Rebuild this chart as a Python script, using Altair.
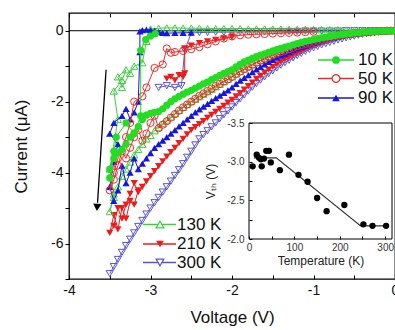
import altair as alt
import pandas as pd

# ---------------- data ----------------
GRID = [0.0, -0.05, -0.1, -0.15, -0.2, -0.25, -0.3, -0.35, -0.4, -0.45, -0.5, -0.55, -0.6, -0.65, -0.7, -0.75,
        -0.8, -0.85, -0.9, -0.95, -1.0, -1.05, -1.1, -1.15, -1.2, -1.25, -1.3, -1.35, -1.4, -1.45, -1.5,
        -1.55, -1.6, -1.65, -1.7, -1.75, -1.8, -1.85, -1.9, -1.95, -2.0,
        -2.05, -2.1, -2.15, -2.2, -2.25, -2.3, -2.35, -2.4, -2.45, -2.5,
        -2.55, -2.6, -2.65, -2.7, -2.75, -2.8, -2.85, -2.9, -2.95, -3.0,
        -3.05, -3.1, -3.15, -3.2, -3.25, -3.3, -3.35, -3.4, -3.45, -3.5]

I_10K = [0.0, 0.0, 0.0, -0.005, -0.01, -0.015, -0.02, -0.03, -0.04, -0.05, -0.06, -0.075, -0.09, -0.105, -0.12,
         -0.14, -0.16, -0.18, -0.2, -0.225, -0.25, -0.275, -0.3, -0.33, -0.36, -0.395, -0.43, -0.465, -0.5, -0.535, -0.57,
         -0.61, -0.65, -0.69, -0.73, -0.78, -0.83, -0.88, -0.95, -1.02, -1.1,
         -1.15, -1.2, -1.26, -1.32, -1.38, -1.45, -1.5, -1.56, -1.62, -1.68,
         -1.73, -1.79, -1.85, -1.92, -2.0, -2.1, -2.2, -2.28, -2.3, -2.33,
         -2.38, -2.5, -2.7, -2.88, -3.0, -3.2, -3.35, -3.45, -3.6, -3.9]
TAIL_V_10K = [-3.45, -3.5, -3.42, -3.3, -3.2, -3.12, -3.12, -3.06, -3.0, -2.94]
TAIL_I_10K = [-3.4, -4.15, -3.0, -2.6, -2.9, -2.4, -0.55, -0.25, -0.15, -0.08]

I_50K = [0.0, 0.0, 0.0, -0.005, -0.01, -0.02, -0.03, -0.04, -0.05, -0.06, -0.07, -0.085, -0.1, -0.12, -0.14,
         -0.165, -0.19, -0.22, -0.25, -0.28, -0.31, -0.34, -0.37, -0.405, -0.44, -0.48, -0.52, -0.56, -0.6, -0.645, -0.69,
         -0.74, -0.79, -0.84, -0.9, -0.96, -1.02, -1.08, -1.15, -1.22, -1.3,
         -1.37, -1.43, -1.5, -1.56, -1.63, -1.7, -1.77, -1.84, -1.92, -2.0,
         -2.08, -2.16, -2.25, -2.35, -2.45, -2.55, -2.65, -2.75, -2.4, -2.6,
         -2.9, -3.1, -2.8, -3.0, -3.3, -3.6, -3.4, -3.8, -4.2, -4.5]
TAIL_V_50K = [-3.45, -3.4, -3.3, -3.25, -3.2, -3.1, -3.05, -2.95, -2.85, -2.8, -2.75]
TAIL_I_50K = [-4.0, -3.6, -3.0, -2.6, -2.0, -1.85, -1.6, -1.05, -0.95, -0.5, -0.62]
RET_V_50K = [-2.7, -2.6, -2.5, -2.4, -2.3, -2.2, -2.1, -2.0, -1.9, -1.8, -1.7, -1.6, -1.5, -1.4, -1.3, -1.2, -1.1, -1.0]
RET_I_50K = [-0.6, -0.57, -0.52, -0.46, -0.38, -0.3, -0.22, -0.16, -0.13, -0.11, -0.1, -0.09, -0.08, -0.07, -0.06, -0.05, -0.04, -0.03]

I_90K = [0.0, 0.0, 0.0, -0.01, -0.02, -0.025, -0.03, -0.04, -0.05, -0.065, -0.08, -0.1, -0.12, -0.14, -0.16,
         -0.185, -0.21, -0.24, -0.27, -0.305, -0.34, -0.38, -0.42, -0.46, -0.5, -0.55, -0.6, -0.65, -0.7, -0.76, -0.82,
         -0.88, -0.95, -1.02, -1.09, -1.17, -1.25, -1.33, -1.41, -1.5, -1.6,
         -1.68, -1.75, -1.83, -1.9, -1.98, -2.06, -2.14, -2.22, -2.3, -2.4,
         -2.5, -2.6, -2.7, -2.8, -2.9, -3.0, -3.1, -3.2, -3.3, -3.45,
         -3.6, -3.75, -3.9, -3.6, -4.0, -4.3, -3.8, -4.5, -4.8, -4.4]
TAIL_V_90K = [-3.45, -3.4, -3.5, -3.45, -3.35, -3.3, -3.25, -3.2, -3.15, -3.13, -3.13]
TAIL_I_90K = [-3.7, -3.2, -2.9, -2.6, -2.4, -2.2, -2.5, -2.3, -2.0, -0.6, -0.02]
RET_V_90K = [-3.1, -3.05, -3.0, -2.95, -2.9, -2.85, -2.8, -2.7, -2.6, -2.5]
RET_I_90K = [0.02, 0.03, 0.02, 0.0, -0.03, -0.06, -0.07, -0.06, -0.06, -0.05]

I_130K = [0.0, 0.0, 0.0, -0.005, -0.01, -0.02, -0.03, -0.04, -0.05, -0.06, -0.07, -0.085, -0.1, -0.115, -0.13,
          -0.155, -0.18, -0.205, -0.23, -0.26, -0.29, -0.32, -0.35, -0.385, -0.42, -0.46, -0.5, -0.54, -0.58, -0.625, -0.67,
          -0.72, -0.77, -0.83, -0.89, -0.95, -1.01, -1.08, -1.15, -1.22, -1.3,
          -1.37, -1.44, -1.51, -1.58, -1.65, -1.72, -1.79, -1.86, -1.93, -2.0,
          -2.08, -2.16, -2.25, -2.34, -2.43, -2.52, -2.62, -2.72, -2.82, -2.95,
          -3.05, -3.2, -3.35, -3.5, -3.7, -3.9, -4.1, -4.4, -4.7, -5.1]
TAIL_V_130K = [-3.45, -3.5, -3.4, -3.45, -3.35, -3.3, -3.4, -3.35, -3.25, -3.2, -3.1, -3.05, -3.0]
TAIL_I_130K = [-4.6, -3.9, -2.5, -1.7, -1.4, -1.1, -1.3, -1.6, -1.2, -1.0, -0.9, -0.3, 0.05]
RET_V_130K = [-2.9, -2.8, -2.7, -2.6, -2.5, -2.4, -2.3, -2.2, -2.1, -2.0, -1.9, -1.8, -1.7, -1.6, -1.5,
              -1.4, -1.3, -1.2, -1.1, -1.0, -0.9, -0.8, -0.7, -0.6, -0.5, -0.4, -0.3, -0.2, -0.1]
RET_I_130K = [0.07, 0.08, 0.08, 0.07, 0.07, 0.07, 0.06, 0.06, 0.06, 0.06, 0.06, 0.05, 0.05, 0.05, 0.05,
              0.05, 0.04, 0.04, 0.04, 0.04, 0.03, 0.03, 0.03, 0.02, 0.02, 0.02, 0.01, 0.01, 0.0]

I_210K = [0.0, -0.005, -0.01, -0.015, -0.02, -0.03, -0.04, -0.055, -0.07, -0.085, -0.1, -0.12, -0.14, -0.165, -0.19,
          -0.22, -0.25, -0.29, -0.33, -0.375, -0.42, -0.47, -0.52, -0.575, -0.63, -0.69, -0.75, -0.815, -0.88, -0.95, -1.02,
          -1.1, -1.18, -1.27, -1.36, -1.46, -1.56, -1.66, -1.76, -1.85, -1.95,
          -2.03, -2.12, -2.2, -2.29, -2.37, -2.46, -2.55, -2.63, -2.72, -2.8,
          -2.92, -3.05, -3.17, -3.3, -3.42, -3.55, -3.68, -3.82, -3.96, -4.1,
          -4.25, -4.4, -4.55, -4.3, -4.6, -4.9, -5.3, -5.0, -5.5, -5.7]
TAIL_V_210K = [-3.45, -3.4, -3.35, -3.3, -3.25, -3.2, -3.15]
TAIL_I_210K = [-5.2, -5.6, -5.0, -5.3, -4.8, -4.9, -4.5]
RET_V_210K = [-2.8, -2.75, -2.7, -2.65, -2.6, -2.58, -2.58, -2.5, -2.4, -2.3, -2.2, -2.1, -2.0]
RET_I_210K = [-1.35, -1.3, -1.4, -1.25, -1.3, -1.2, -0.5, -0.42, -0.35, -0.3, -0.26, -0.22, -0.18]

I_300K = [0.0, -0.005, -0.01, -0.025, -0.04, -0.055, -0.07, -0.085, -0.1, -0.125, -0.15, -0.175, -0.2, -0.23, -0.26,
          -0.295, -0.33, -0.365, -0.4, -0.44, -0.48, -0.53, -0.58, -0.64, -0.7, -0.765, -0.83, -0.9, -0.97, -1.05, -1.13,
          -1.21, -1.3, -1.39, -1.49, -1.59, -1.7, -1.81, -1.92, -2.03, -2.15,
          -2.26, -2.37, -2.48, -2.6, -2.71, -2.82, -2.93, -3.05, -3.22, -3.4,
          -3.57, -3.75, -3.92, -4.08, -4.24, -4.4, -4.55, -4.7, -4.85, -5.0,
          -5.17, -5.35, -5.52, -5.7, -5.88, -6.06, -6.25, -6.45, -6.65, -6.85]
RET_V_300K = [-2.9, -2.8, -2.7, -2.62, -2.58, -2.5, -2.4, -2.3, -2.2, -2.1, -2.0, -1.9, -1.8, -1.7, -1.6, -1.5,
              -1.4, -1.3, -1.2, -1.1, -1.0, -0.9, -0.8, -0.7, -0.6, -0.5, -0.4, -0.3, -0.2, -0.1, 0.0]
RET_I_300K = [-1.6, -1.55, -1.6, -1.55, -0.55, -0.06, -0.05, -0.05, -0.04, -0.04, -0.04, -0.03, -0.03, -0.03, -0.03, -0.02,
              -0.02, -0.02, -0.02, -0.01, -0.01, -0.01, -0.01, -0.01, 0.0, 0.0, 0.0, 0.0, 0.0, 0.0, 0.0]

# inset: threshold voltage vs temperature
INSET_T = [8, 17, 22, 26, 28, 33, 38, 44, 48, 68, 88, 109, 129, 150, 171, 210, 252, 272, 302]
INSET_V = [-2.94, -3.09, -3.05, -3.03, -2.94, -3.04, -3.14, -3.14, -2.99, -2.89, -3.09, -2.83, -2.74,
           -2.53, -2.36, -2.44, -2.19, -2.17, -2.17]
FIT_T = [11, 60, 246, 305]
FIT_V = [-3.05, -3.05, -2.17, -2.17]

# arrow annotation (data coordinates)
ARROW_V = [-3.545, -3.65]
ARROW_I = [-1.1, -4.85]
ARROW_HEAD = (-3.655, -4.98)

SERIES = ["10 K", "50 K", "90 K", "130 K", "210 K", "300 K"]
COLORS = {"10 K": "#22DD22", "50 K": "#EE2B2B", "90 K": "#1616E0",
          "130 K": "#3DCF3D", "210 K": "#F01A1A", "300 K": "#5A55CC"}
SHAPES = {"10 K": "circle", "50 K": "circle", "90 K": "triangle-up",
          "130 K": "triangle-up", "210 K": "triangle-down", "300 K": "triangle-down"}
FILLED = {"10 K": True, "50 K": False, "90 K": True, "130 K": False, "210 K": True, "300 K": False}

PARTS = {
    "10 K": [(GRID + TAIL_V_10K, I_10K + TAIL_I_10K)],
    "50 K": [(GRID + TAIL_V_50K + RET_V_50K, I_50K + TAIL_I_50K + RET_I_50K)],
    "90 K": [(GRID + TAIL_V_90K + RET_V_90K, I_90K + TAIL_I_90K + RET_I_90K)],
    "130 K": [(GRID + TAIL_V_130K + RET_V_130K, I_130K + TAIL_I_130K + RET_I_130K)],
    "210 K": [(GRID + TAIL_V_210K, I_210K + TAIL_I_210K), (RET_V_210K, RET_I_210K)],
    "300 K": [(GRID, I_300K), (RET_V_300K, RET_I_300K)],
}

rows = []
for lab in SERIES:
    for s, (vs, cs) in enumerate(PARTS[lab]):
        for v, c in zip(vs, cs):
            rows.append({"T": lab, "seg": f"{lab}-{s}", "V": v, "I": c, "k": len(rows)})
df = pd.DataFrame(rows)

# ---------------- layout constants ----------------
W, H = 326, 266
FONT = "Liberation Sans"

XT = [-4, -3.5, -3, -2.5, -2, -1.5, -1, -0.5, 0]
YT = [0, -1, -2, -3, -4, -5, -6, -7]
SX = alt.Scale(domain=[-4, 0], nice=False, zero=False)
SY = alt.Scale(domain=[-7, 0.5], nice=False, zero=False)

X_AXIS = alt.Axis(orient="bottom", values=XT,
                  labelExpr="datum.value % 1 == 0 ? '' + datum.value : ''",
                  tickSize=4, offset=-4, domain=False, grid=False, labelPadding=4,
                  labelFontSize=14, labelColor="#111", tickColor="black", labelFlush=False,
                  title="Voltage (V)", titleFontSize=17, titleFontWeight="normal",
                  titlePadding=12, titleColor="#111")
Y_AXIS = alt.Axis(orient="left", values=YT,
                  labelExpr="datum.value % 2 == 0 ? '' + datum.value : ''",
                  tickSize=4, domain=False, grid=False, labelPadding=2,
                  labelFontSize=14, labelColor="#111", tickColor="black", labelFlush=False,
                  title="Current (\u03bcA)", titleFontSize=17, titleFontWeight="normal",
                  titlePadding=20, titleColor="#111")


def xe(field):
    return alt.X(field, type="quantitative", scale=SX, axis=X_AXIS)


def ye(field):
    return alt.Y(field, type="quantitative", scale=SY, axis=Y_AXIS)


main_layers = []
# zero line
main_layers.append(
    alt.Chart(pd.DataFrame({"I": [0.0]})).mark_rule(color="black", strokeWidth=1).encode(y=ye("I"))
)

for lab in ["300 K", "210 K", "130 K", "90 K", "50 K", "10 K"]:
    base = alt.Chart(df).transform_filter(alt.datum.T == lab)
    main_layers.append(
        base.mark_line(color=COLORS[lab], strokeWidth=1, clip=True).encode(
            x=xe("V"), y=ye("I"), detail="seg:N", order="k:Q")
    )
    main_layers.append(
        base.mark_point(shape=SHAPES[lab], filled=FILLED[lab], color=COLORS[lab],
                        size=52, strokeWidth=1, opacity=1, clip=True).encode(
            x=xe("V"), y=ye("I"))
    )

# arrow
arrow_df = pd.DataFrame({"V": [ARROW_V[0]], "I": [ARROW_I[0]], "V2": [ARROW_V[1]], "I2": [ARROW_I[1]]})
main_layers.append(
    alt.Chart(arrow_df).mark_rule(color="black", strokeWidth=1.3).encode(
        x=xe("V"), y=ye("I"), x2="V2", y2="I2")
)
main_layers.append(
    alt.Chart(pd.DataFrame({"V": [ARROW_HEAD[0]], "I": [ARROW_HEAD[1]]})).mark_point(
        shape="triangle-down", filled=True, color="black", size=70, angle=4, opacity=1).encode(
        x=xe("V"), y=ye("I"))
)

# legends (two boxes of three entries)
LEG_A = {"rows": [47, 65.5, 85], "x0": 249, "x1": 285, "xm": 267, "xt": 289, "labels": ["10 K", "50 K", "90 K"]}
LEG_B = {"rows": [211.5, 231, 249.5], "x0": 74, "x1": 107, "xm": 91, "xt": 108, "labels": ["130 K", "210 K", "300 K"]}
one = pd.DataFrame({"a": [0]})
for leg in (LEG_A, LEG_B):
    for yv, lab in zip(leg["rows"], leg["labels"]):
        main_layers.append(alt.Chart(one).mark_rule(color=COLORS[lab], strokeWidth=1.3).encode(
            x=alt.value(leg["x0"]), x2=alt.value(leg["x1"]), y=alt.value(yv)))
        main_layers.append(alt.Chart(one).mark_point(
            shape=SHAPES[lab], filled=FILLED[lab], color=COLORS[lab], fill=COLORS[lab] if FILLED[lab] else "white",
            size=60, strokeWidth=1.2, opacity=1).encode(x=alt.value(leg["xm"]), y=alt.value(yv)))
        main_layers.append(alt.Chart(one).mark_text(
            text=lab, align="left", baseline="middle", fontSize=17, font=FONT, color="#111").encode(
            x=alt.value(leg["xt"]), y=alt.value(yv)))

main = alt.layer(*main_layers)

# top mirrored ticks
top = alt.Chart(pd.DataFrame({"V": [-4.0]})).mark_point(opacity=0).encode(
    x=alt.X("V:Q", scale=SX, axis=alt.Axis(orient="top", values=XT, labels=False, tickSize=4, offset=-4,
                                          domain=False, grid=False, title=None, zindex=1, tickColor="black"))
)

# inset
SXI = alt.Scale(domain=[0, 315], range=[180, 323], nice=False, zero=False)
SYI = alt.Scale(domain=[-3.5, -2.0], range=[110, 226], nice=False, zero=False)
XI_AXIS = alt.Axis(orient="bottom", values=[0, 50, 100, 150, 200, 250, 300],
                   labelExpr="datum.value % 100 == 0 ? '' + datum.value : ''",
                   tickSize=3, offset=-(H - 226) - 3, domain=False, grid=False, labelPadding=3,
                   labelFontSize=10, labelColor="#333", tickColor="black", zindex=1, labelFlush=False,
                   title="Temperature (K)", titleFontSize=12, titleFontWeight="normal", titlePadding=3,
                   titleColor="#222")
YI_AXIS = alt.Axis(orient="left", values=[-3.5, -3.25, -3.0, -2.75, -2.5, -2.25, -2.0],
                   labelExpr="(datum.value * 2) % 1 == 0 ? replace(format(datum.value, '.1f'), '\u2212', '-') : ''",
                   tickSize=3, offset=-183, domain=False, grid=False, labelPadding=5,
                   labelFontSize=10, labelColor="#333", tickColor="black", zindex=1, labelFlush=False,
                   title="V\u209c\u2095 (V)", titleFontSize=12, titleFontWeight="normal", titlePadding=9,
                   titleColor="#222")


def xi(field):
    return alt.X(field, type="quantitative", scale=SXI, axis=XI_AXIS)


def yi(field):
    return alt.Y(field, type="quantitative", scale=SYI, axis=YI_AXIS)


frame = alt.Chart(pd.DataFrame({"t0": [0], "t1": [315], "v0": [-3.5], "v1": [-2.0]})).mark_rect(
    fill="white", stroke="black", strokeWidth=1).encode(x=xi("t0"), x2="t1", y=yi("v0"), y2="v1")
fit = alt.Chart(pd.DataFrame({"T": FIT_T, "V": FIT_V})).mark_line(color="#333", strokeWidth=1.2).encode(
    x=xi("T"), y=yi("V"))
pts = alt.Chart(pd.DataFrame({"T": INSET_T, "V": INSET_V})).mark_circle(size=40, color="black", opacity=1).encode(
    x=xi("T"), y=yi("V"))
inset = alt.layer(frame, fit, pts)

chart = alt.layer(main, inset, top).resolve_scale(x="independent", y="independent").properties(
    width=W, height=H,
    padding={"left": 69, "top": 13, "right": 0, "bottom": 51},
    autosize=alt.AutoSizeParams(type="none"),
).configure(font=FONT).configure_view(stroke="black", strokeWidth=1.3)

chart.save("out.html", embed_options={"renderer": "svg", "actions": False})
